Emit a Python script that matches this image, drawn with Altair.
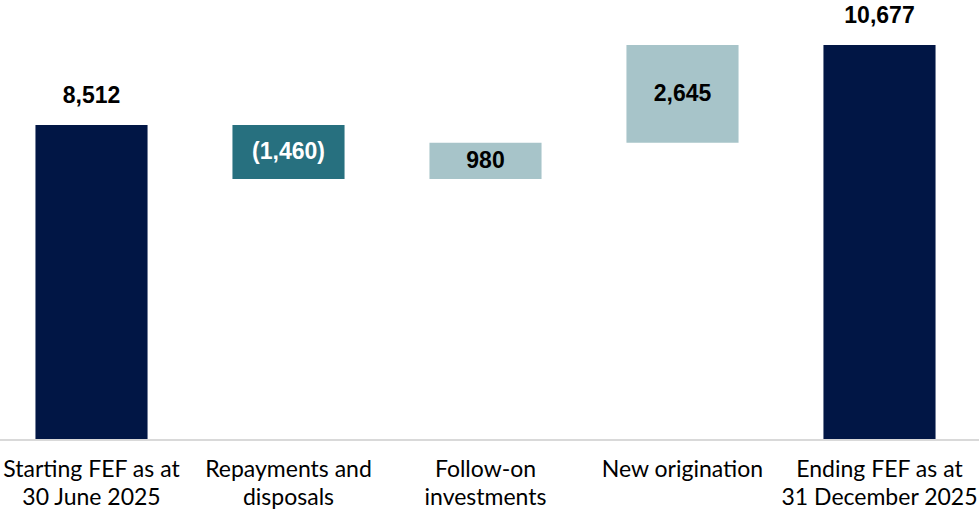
import altair as alt
import pandas as pd

categories = ["Starting FEF as at|30 June 2025", "Repayments and|disposals",
              "Follow-on|investments", "New origination", "Ending FEF as at|31 December 2025"]
values = [8512, -1460, 980, 2645, 10677]
kinds = ["total", "delta", "delta", "delta", "total"]
labels = ["8,512", "(1,460)", "980", "2,645", "10,677"]
bar_colors = ["#011645", "#27707f", "#a7c4c9", "#a7c4c9", "#011645"]
label_colors = ["#000000", "#ffffff", "#000000", "#000000", "#000000"]

rows = []
run = 0
for c, v, k, l, bc, lc in zip(categories, values, kinds, labels, bar_colors, label_colors):
    if k == "total":
        start, end = 0, v
        run = v
    else:
        start, end = run, run + v
        run = end
    rows.append(dict(cat=c, start=start, end=end, mid=(start + end) / 2,
                     top=max(start, end), kind=k, label=l, bc=bc, lc=lc))
df = pd.DataFrame(rows)

x = alt.X("cat:N", sort=categories,
          scale=alt.Scale(paddingInner=0.431, paddingOuter=0.18),
          axis=alt.Axis(title=None, domain=False, ticks=False, labelAngle=0,
                        labelFont="Lato", labelFontSize=23, labelColor="#000000",
                        labelPadding=18, labelLineHeight=28, labelBaseline="top",
                        labelLimit=0, labelOverlap=False,
                        labelExpr="split(datum.label, '|')"))
yscale = alt.Scale(domain=[0, 11892], nice=False)

bars = alt.Chart(df).mark_bar().encode(
    x=x,
    y=alt.Y("start:Q", scale=yscale, axis=None),
    y2="end:Q",
    color=alt.Color("bc:N", scale=None),
)

baseline = alt.Chart(df).mark_rule(color="#d9d9d9", strokeWidth=1.5).encode(
    x=alt.value(0), x2=alt.value(979), y=alt.value(440))

inner = alt.Chart(df).transform_filter("datum.kind == 'delta'").mark_text(
    font="Liberation Sans", fontWeight="bold", fontSize=23, baseline="middle"
).encode(
    x=alt.X("cat:N", sort=categories),
    y=alt.Y("mid:Q", scale=yscale),
    text="label:N",
    color=alt.Color("lc:N", scale=None),
)

outer = alt.Chart(df).transform_filter("datum.kind == 'total'").mark_text(
    font="Liberation Sans", fontWeight="bold", fontSize=23, baseline="middle", dy=-29
).encode(
    x=alt.X("cat:N", sort=categories),
    y=alt.Y("top:Q", scale=yscale),
    text="label:N",
    color=alt.Color("lc:N", scale=None),
)

chart = alt.layer(bars, baseline, inner, outer).properties(
    width=971, height=440,
    autosize=alt.AutoSizeParams(type="none"),
    padding={"left": 0, "top": 0, "right": 8, "bottom": 74},
    background="#ffffff",
).configure_view(stroke=None)

chart.save("out.html", embed_options={"renderer": "svg", "actions": False})
